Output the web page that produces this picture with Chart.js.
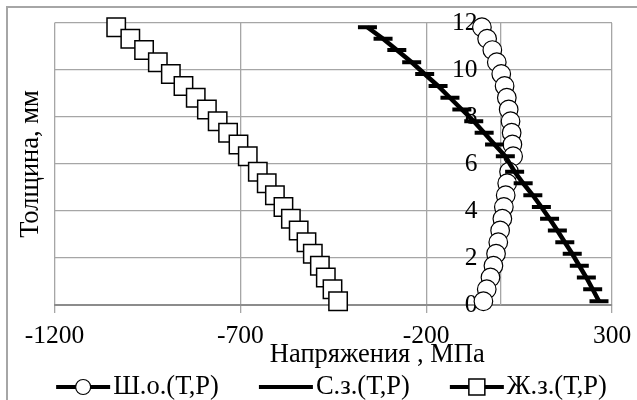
<!DOCTYPE html>
<html lang="ru">
<head>
    <meta charset="UTF-8">
    <title>Напряжения по толщине</title>
    <script src="https://cdn.jsdelivr.net/npm/chart.js"></script>
    <style>
        body {
            margin: 0;
            padding: 0;
            background-color: #fff;
        }
        .wrap {
            position: relative;
            width: 637px;
            height: 400px;
        }
        .wrap::before {
            content: '';
            position: absolute;
            left: 6px;
            top: 6px;
            right: 0;
            bottom: 0;
            border-left: 2px solid #a6a6a6;
            border-top: 2px solid #a6a6a6;
        }
        canvas {
            position: relative;
        }
    </style>
</head>
<body>
    <div class="wrap">
        <canvas id="stressChart" width="637" height="400"></canvas>
    </div>

    <script>
        // thickness, mm (same for all three series)
        const thickness = [11.82, 11.33, 10.85, 10.33, 9.83, 9.32, 8.82, 8.32, 7.82, 7.33, 6.83, 6.33,
                           5.67, 5.18, 4.67, 4.17, 3.67, 3.17, 2.67, 2.18, 1.67, 1.17, 0.67, 0.16];
        // stresses, MPa
        const stressSho = [-50, -36, -22, -10, 2, 11, 17, 22, 27, 30, 32, 34,
                           23, 18, 14, 9, 5, -1, -6, -12, -19, -27, -37, -46];
        const stressSz  = [-358, -316, -279, -239, -204, -168, -136, -104, -72, -44, -16, 13,
                           38, 61, 87, 110, 132, 153, 173, 193, 212, 231, 248, 265];
        const stressZhz = [-1034, -996, -959, -922, -887, -853, -820, -790, -761, -733, -705, -680,
                           -653, -629, -607, -584, -564, -543, -522, -505, -486, -470, -452, -437];

        const seriesNames = ['Ш.о.(Т,Р)', 'С.з.(Т,Р)', 'Ж.з.(Т,Р)'];
        const xTicks = [-1200, -700, -200, 300];
        const yTicks = [0, 2, 4, 6, 8, 10, 12];

        const FONT = 'Liberation Serif, "Times New Roman", serif';
        const GRID = '#a6a6a6';

        function points(xs) {
            return xs.map((x, i) => ({ x: x, y: thickness[i] }));
        }

        // the y axis crosses at x = 0; its labels stand a bit left of that line, under the markers
        const yAxisLabels = {
            id: 'yAxisLabels',
            beforeDatasetsDraw(chart) {
                const { ctx, scales } = chart;
                const x0 = scales.x.getPixelForValue(0) - 23;
                ctx.save();
                ctx.fillStyle = '#000';
                ctx.font = '25.5px ' + FONT;
                ctx.textAlign = 'right';
                ctx.textBaseline = 'middle';
                yTicks.forEach(v => ctx.fillText(String(v), x0, scales.y.getPixelForValue(v)));
                ctx.restore();
            }
        };

        // axis titles drawn by hand, the x one sits right of centre like in the original
        const axisTitles = {
            id: 'axisTitles',
            afterDraw(chart) {
                const { ctx, chartArea } = chart;
                ctx.save();
                ctx.fillStyle = '#000';
                ctx.font = '26.5px ' + FONT;
                ctx.textAlign = 'center';
                ctx.textBaseline = 'middle';
                ctx.fillText('Напряжения , МПа', (chartArea.left + chartArea.right) / 2 + 44, 355);
                ctx.translate(31, (chartArea.top + chartArea.bottom) / 2);
                ctx.rotate(-Math.PI / 2);
                ctx.fillText('Толщина, мм', 0, 0);
                ctx.restore();
            }
        };

        // Excel-like legend: line sample with the marker in the middle
        const lineLegend = {
            id: 'lineLegend',
            afterDraw(chart) {
                const ctx = chart.ctx;
                const sample = 54, gapText = 3, gapItem = 40, cy = 387, cx = 331.5;
                ctx.save();
                ctx.font = '26.5px ' + FONT;
                const widths = chart.data.datasets.map(ds => sample + gapText + ctx.measureText(ds.label).width);
                const total = widths.reduce((a, b) => a + b, 0) + gapItem * (widths.length - 1);
                let x = cx - total / 2;
                chart.data.datasets.forEach((ds, i) => {
                    ctx.strokeStyle = '#000';
                    ctx.lineWidth = 4;
                    ctx.beginPath();
                    ctx.moveTo(x, cy);
                    ctx.lineTo(x + sample, cy);
                    ctx.stroke();
                    ctx.fillStyle = ds.pointBackgroundColor;
                    ctx.lineWidth = ds.pointBorderWidth;
                    Chart.helpers.drawPoint(ctx, {
                        pointStyle: ds.pointStyle,
                        radius: ds.legendRadius,
                        rotation: 0,
                        borderWidth: ds.pointBorderWidth
                    }, x + sample / 2, cy);
                    ctx.fillStyle = '#000';
                    ctx.textAlign = 'left';
                    ctx.textBaseline = 'middle';
                    ctx.fillText(ds.label, x + sample + gapText, cy);
                    x += widths[i] + gapItem;
                });
                ctx.restore();
            }
        };

        const ctx = document.getElementById('stressChart').getContext('2d');
        new Chart(ctx, {
            type: 'scatter',
            data: {
                datasets: [
                    {
                        label: seriesNames[0],
                        data: points(stressSho),
                        showLine: true,
                        clip: false,
                        borderColor: '#000',
                        borderWidth: 4,
                        pointStyle: 'circle',
                        pointRadius: 9.3,
                        legendRadius: 7.5,
                        pointBackgroundColor: '#fff',
                        pointBorderColor: '#000',
                        pointBorderWidth: 1.2,
                        order: 3
                    },
                    {
                        label: seriesNames[1],
                        data: points(stressSz),
                        showLine: true,
                        clip: false,
                        borderColor: '#000',
                        borderWidth: 4.5,
                        pointStyle: 'line',
                        pointRadius: 9.5,
                        legendRadius: 9.5,
                        pointBackgroundColor: '#000',
                        pointBorderColor: '#000',
                        pointBorderWidth: 4,
                        order: 2
                    },
                    {
                        label: seriesNames[2],
                        data: points(stressZhz),
                        showLine: true,
                        clip: false,
                        borderColor: '#000',
                        borderWidth: 4,
                        pointStyle: 'rect',
                        pointRadius: 13,
                        legendRadius: 11.3,
                        pointBackgroundColor: '#fff',
                        pointBorderColor: '#000',
                        pointBorderWidth: 1.5,
                        order: 1
                    }
                ]
            },
            options: {
                responsive: false,
                animation: false,
                layout: {
                    padding: { top: 23, left: 54.5, right: 25, bottom: 40.2 }
                },
                plugins: {
                    legend: { display: false },
                    tooltip: { enabled: false }
                },
                scales: {
                    x: {
                        type: 'linear',
                        min: xTicks[0],
                        max: xTicks[xTicks.length - 1],
                        afterBuildTicks: (scale) => { scale.ticks = xTicks.map(v => ({ value: v })); },
                        ticks: {
                            padding: 3,
                            color: '#000',
                            font: { family: FONT, size: 25.5, lineHeight: 1.6 },
                            callback: (v) => String(v)
                        },
                        grid: {
                            color: GRID,
                            lineWidth: 1.3,
                            tickLength: 8,
                            tickColor: GRID
                        },
                        border: { color: '#8c8c8c', width: 2 }
                    },
                    y: {
                        type: 'linear',
                        position: { x: 0 },
                        min: yTicks[0],
                        max: yTicks[yTicks.length - 1],
                        afterBuildTicks: (scale) => { scale.ticks = yTicks.map(v => ({ value: v })); },
                        ticks: { display: false },
                        grid: {
                            color: GRID,
                            lineWidth: 1.3,
                            drawTicks: false
                        },
                        border: { color: GRID, width: 1.3 }
                    }
                }
            },
            plugins: [yAxisLabels, axisTitles, lineLegend]
        });
    </script>
</body>
</html>
